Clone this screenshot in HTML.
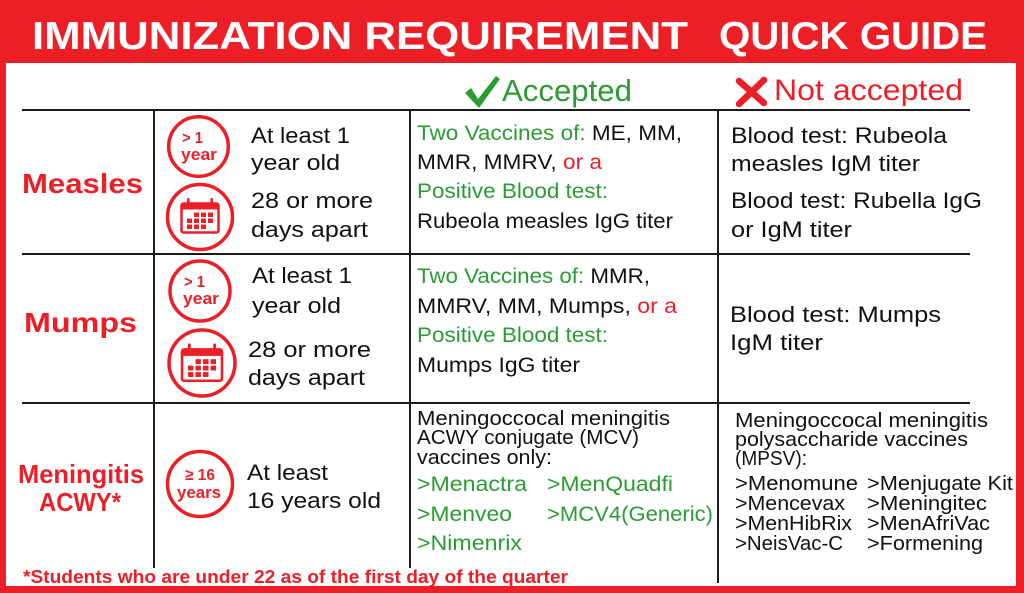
<!DOCTYPE html>
<html>
<head>
<meta charset="utf-8">
<style>
  html, body { margin: 0; padding: 0; background: #fff; }
  svg { display: block; }
  text { font-family: "Liberation Sans", Arial, sans-serif; }
</style>
</head>
<body>
<svg width="1024" height="593" viewBox="0 0 1024 593" xmlns="http://www.w3.org/2000/svg">
  <!-- frame -->
  <rect x="0" y="0" width="1024" height="593" fill="#ec1f27"/>
  <rect x="6" y="63" width="1010" height="523" fill="#ffffff"/>

  <!-- title -->
  <text x="32" y="49" font-size="39" font-weight="bold" fill="#ffffff" textLength="656" lengthAdjust="spacingAndGlyphs">IMMUNIZATION REQUIREMENT</text>
  <text x="719" y="49" font-size="39" font-weight="bold" fill="#ffffff" textLength="268" lengthAdjust="spacingAndGlyphs">QUICK GUIDE</text>

  <!-- table lines -->
  <g stroke="#1a1a1a" stroke-width="2" fill="none">
    <line x1="22" y1="110" x2="970" y2="110"/>
    <line x1="22" y1="254" x2="970" y2="254"/>
    <line x1="22" y1="403" x2="970" y2="403"/>
    <line x1="154" y1="110" x2="154" y2="568"/>
    <line x1="410" y1="110" x2="410" y2="568"/>
    <line x1="718" y1="110" x2="718" y2="583"/>
  </g>

  <!-- header row -->
  <polygon points="465,93 471,88 478,99 496,76 500,79 479,108" fill="#2a9c33"/>
  <text x="502" y="101" font-size="31" fill="#2a9c33" textLength="130" lengthAdjust="spacingAndGlyphs">Accepted</text>
  <g stroke="#ec1f27" stroke-width="6.5" stroke-linecap="round">
    <line x1="739" y1="81" x2="764" y2="103"/>
    <line x1="764" y1="80" x2="739" y2="104"/>
  </g>
  <text x="774" y="100" font-size="30" fill="#ec1f27" textLength="189" lengthAdjust="spacingAndGlyphs">Not accepted</text>

  <!-- ROW 1: Measles -->
  <text x="22" y="193" font-size="28" font-weight="bold" fill="#ec1f27" textLength="121" lengthAdjust="spacingAndGlyphs">Measles</text>

  <circle cx="198.5" cy="146.5" r="29.8" fill="none" stroke="#ec1f27" stroke-width="3.5"/>
  <text x="182" y="143" font-size="16" font-weight="bold" fill="#ec1f27" textLength="21" lengthAdjust="spacingAndGlyphs">&gt; 1</text>
  <text x="181" y="160" font-size="17" font-weight="bold" fill="#ec1f27" textLength="36" lengthAdjust="spacingAndGlyphs">year</text>

  <circle cx="200" cy="217" r="32.5" fill="none" stroke="#ec1f27" stroke-width="3.5"/>
  <g transform="translate(200,217)" fill="#ec1f27">
    <rect x="-18.5" y="-13.5" width="37" height="29" rx="2" fill="none" stroke="#ec1f27" stroke-width="2.5"/>
    <rect x="-18.5" y="-13.5" width="37" height="6"/>
    <rect x="-13" y="-19" width="2.6" height="8" rx="1"/>
    <rect x="10.4" y="-19" width="2.6" height="8" rx="1"/>
    <rect x="-6" y="-4.5" width="5" height="4.5"/><rect x="1" y="-4.5" width="5" height="4.5"/><rect x="8" y="-4.5" width="5" height="4.5"/>
    <rect x="-13" y="1.5" width="5" height="4.5"/><rect x="-6" y="1.5" width="5" height="4.5"/><rect x="1" y="1.5" width="5" height="4.5"/><rect x="8" y="1.5" width="5" height="4.5"/>
    <rect x="-13" y="7.5" width="5" height="4.5"/><rect x="-6" y="7.5" width="5" height="4.5"/><rect x="1" y="7.5" width="5" height="4.5"/>
  </g>

  <g font-size="22.5" fill="#111">
    <text x="251" y="143" textLength="99" lengthAdjust="spacingAndGlyphs">At least 1</text>
    <text x="251" y="170" textLength="89" lengthAdjust="spacingAndGlyphs">year old</text>
    <text x="251" y="208" textLength="122" lengthAdjust="spacingAndGlyphs">28 or more</text>
    <text x="251" y="237" textLength="117" lengthAdjust="spacingAndGlyphs">days apart</text>
  </g>

  <g font-size="21" fill="#111">
    <text x="417" y="140" textLength="265" lengthAdjust="spacingAndGlyphs"><tspan fill="#2a9c33">Two Vaccines of:</tspan> ME, MM,</text>
    <text x="417" y="169" textLength="185" lengthAdjust="spacingAndGlyphs">MMR, MMRV, <tspan fill="#ec1f27">or a</tspan></text>
    <text x="417" y="198" fill="#2a9c33" textLength="191" lengthAdjust="spacingAndGlyphs">Positive Blood test:</text>
    <text x="417" y="228" textLength="256" lengthAdjust="spacingAndGlyphs">Rubeola measles IgG titer</text>
  </g>

  <g font-size="22.5" fill="#111">
    <text x="731" y="143" textLength="216" lengthAdjust="spacingAndGlyphs">Blood test: Rubeola</text>
    <text x="731" y="171" textLength="189" lengthAdjust="spacingAndGlyphs">measles IgM titer</text>
    <text x="731" y="208" textLength="251" lengthAdjust="spacingAndGlyphs">Blood test: Rubella IgG</text>
    <text x="731" y="237" textLength="121" lengthAdjust="spacingAndGlyphs">or IgM titer</text>
  </g>

  <!-- ROW 2: Mumps -->
  <text x="24" y="332" font-size="28" font-weight="bold" fill="#ec1f27" textLength="113" lengthAdjust="spacingAndGlyphs">Mumps</text>

  <circle cx="200" cy="291" r="30" fill="none" stroke="#ec1f27" stroke-width="3.5"/>
  <text x="184" y="287" font-size="16" font-weight="bold" fill="#ec1f27" textLength="21" lengthAdjust="spacingAndGlyphs">&gt; 1</text>
  <text x="183" y="304" font-size="17" font-weight="bold" fill="#ec1f27" textLength="36" lengthAdjust="spacingAndGlyphs">year</text>

  <circle cx="202" cy="363" r="33" fill="none" stroke="#ec1f27" stroke-width="3.5"/>
  <g transform="translate(202,364) scale(1.08)" fill="#ec1f27">
    <rect x="-18.5" y="-13.5" width="37" height="29" rx="2" fill="none" stroke="#ec1f27" stroke-width="2.4"/>
    <rect x="-18.5" y="-13.5" width="37" height="6"/>
    <rect x="-13" y="-19" width="2.6" height="8" rx="1"/>
    <rect x="10.4" y="-19" width="2.6" height="8" rx="1"/>
    <rect x="-6" y="-4.5" width="5" height="4.5"/><rect x="1" y="-4.5" width="5" height="4.5"/><rect x="8" y="-4.5" width="5" height="4.5"/>
    <rect x="-13" y="1.5" width="5" height="4.5"/><rect x="-6" y="1.5" width="5" height="4.5"/><rect x="1" y="1.5" width="5" height="4.5"/><rect x="8" y="1.5" width="5" height="4.5"/>
    <rect x="-13" y="7.5" width="5" height="4.5"/><rect x="-6" y="7.5" width="5" height="4.5"/><rect x="1" y="7.5" width="5" height="4.5"/>
  </g>

  <g font-size="22.5" fill="#111">
    <text x="252" y="283" textLength="100" lengthAdjust="spacingAndGlyphs">At least 1</text>
    <text x="252" y="313" textLength="89" lengthAdjust="spacingAndGlyphs">year old</text>
    <text x="248" y="357" textLength="123" lengthAdjust="spacingAndGlyphs">28 or more</text>
    <text x="248" y="385" textLength="117" lengthAdjust="spacingAndGlyphs">days apart</text>
  </g>

  <g font-size="21" fill="#111">
    <text x="417" y="283" textLength="233" lengthAdjust="spacingAndGlyphs"><tspan fill="#2a9c33">Two Vaccines of:</tspan> MMR,</text>
    <text x="417" y="313" textLength="260" lengthAdjust="spacingAndGlyphs">MMRV, MM, Mumps, <tspan fill="#ec1f27">or a</tspan></text>
    <text x="417" y="342" fill="#2a9c33" textLength="191" lengthAdjust="spacingAndGlyphs">Positive Blood test:</text>
    <text x="417" y="372" textLength="163" lengthAdjust="spacingAndGlyphs">Mumps IgG titer</text>
  </g>

  <g font-size="22.5" fill="#111">
    <text x="730" y="322" textLength="211" lengthAdjust="spacingAndGlyphs">Blood test: Mumps</text>
    <text x="730" y="350" textLength="93" lengthAdjust="spacingAndGlyphs">IgM titer</text>
  </g>

  <!-- ROW 3: Meningitis -->
  <text x="18" y="483" font-size="26" font-weight="bold" fill="#ec1f27" textLength="126" lengthAdjust="spacingAndGlyphs">Meningitis</text>
  <text x="39" y="511" font-size="26" font-weight="bold" fill="#ec1f27" textLength="82" lengthAdjust="spacingAndGlyphs">ACWY*</text>

  <circle cx="200" cy="484" r="32.5" fill="none" stroke="#ec1f27" stroke-width="3.5"/>
  <text x="185" y="480" font-size="16" font-weight="bold" fill="#ec1f27" textLength="30" lengthAdjust="spacingAndGlyphs">≥ 16</text>
  <text x="177" y="498" font-size="17" font-weight="bold" fill="#ec1f27" textLength="44" lengthAdjust="spacingAndGlyphs">years</text>

  <g font-size="22.5" fill="#111">
    <text x="247" y="480" textLength="81" lengthAdjust="spacingAndGlyphs">At least</text>
    <text x="247" y="508" textLength="134" lengthAdjust="spacingAndGlyphs">16 years old</text>
  </g>

  <g font-size="20" fill="#111">
    <text x="417" y="425" textLength="253" lengthAdjust="spacingAndGlyphs">Meningoccocal meningitis</text>
    <text x="417" y="444" textLength="222" lengthAdjust="spacingAndGlyphs">ACWY conjugate (MCV)</text>
    <text x="417" y="464" textLength="135" lengthAdjust="spacingAndGlyphs">vaccines only:</text>
  </g>
  <g font-size="21" fill="#2a9c33">
    <text x="417" y="491" textLength="110" lengthAdjust="spacingAndGlyphs">&gt;Menactra</text>
    <text x="547" y="491" textLength="126" lengthAdjust="spacingAndGlyphs">&gt;MenQuadfi</text>
    <text x="417" y="521" textLength="95" lengthAdjust="spacingAndGlyphs">&gt;Menveo</text>
    <text x="547" y="521" textLength="166" lengthAdjust="spacingAndGlyphs">&gt;MCV4(Generic)</text>
    <text x="417" y="550" textLength="105" lengthAdjust="spacingAndGlyphs">&gt;Nimenrix</text>
  </g>

  <g font-size="20" fill="#111">
    <text x="735" y="427" textLength="253" lengthAdjust="spacingAndGlyphs">Meningoccocal meningitis</text>
    <text x="735" y="446" textLength="233" lengthAdjust="spacingAndGlyphs">polysaccharide vaccines</text>
    <text x="735" y="465" textLength="72" lengthAdjust="spacingAndGlyphs">(MPSV):</text>
    <text x="735" y="490" textLength="123" lengthAdjust="spacingAndGlyphs">&gt;Menomune</text>
    <text x="867" y="490" textLength="146" lengthAdjust="spacingAndGlyphs">&gt;Menjugate Kit</text>
    <text x="735" y="510" textLength="110" lengthAdjust="spacingAndGlyphs">&gt;Mencevax</text>
    <text x="867" y="510" textLength="120" lengthAdjust="spacingAndGlyphs">&gt;Meningitec</text>
    <text x="735" y="530" textLength="117" lengthAdjust="spacingAndGlyphs">&gt;MenHibRix</text>
    <text x="867" y="530" textLength="123" lengthAdjust="spacingAndGlyphs">&gt;MenAfriVac</text>
    <text x="735" y="550" textLength="108" lengthAdjust="spacingAndGlyphs">&gt;NeisVac-C</text>
    <text x="867" y="550" textLength="116" lengthAdjust="spacingAndGlyphs">&gt;Formening</text>
  </g>

  <!-- footnote -->
  <text x="23" y="583" font-size="18" font-weight="bold" fill="#ec1f27" textLength="545" lengthAdjust="spacingAndGlyphs">*Students who are under 22 as of the first day of the quarter</text>
</svg>
</body>
</html>
